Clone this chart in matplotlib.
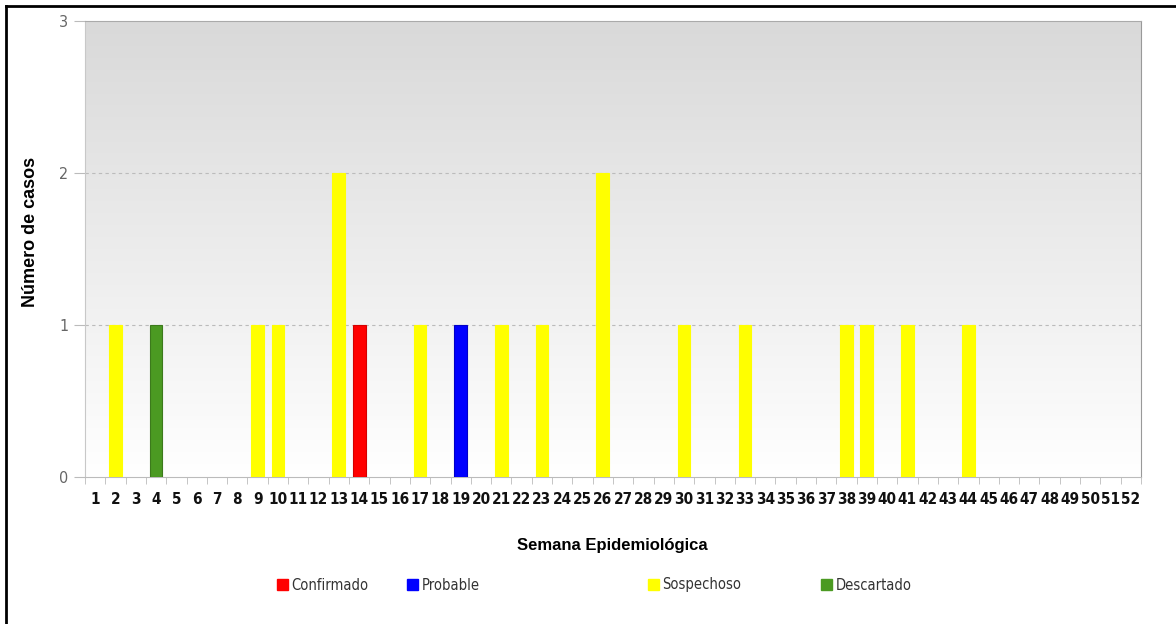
import numpy as np
import matplotlib
matplotlib.use("Agg")
import matplotlib.pyplot as plt
from matplotlib.lines import Line2D
from matplotlib.patches import Patch
from matplotlib import font_manager

weeks = list(range(1, 53))
series_names = ["Confirmado", "Probable", "Sospechoso", "Descartado"]
series_colors = ["#ff0000", "#0000ff", "#ffff00", "#4b9a22"]
edge_colors = ["#d40000", "#0000c8", "#ffff00", "#3c7a1c"]

# casos por semana (solo semanas con casos)
confirmado = {14: 1}
probable = {19: 1}
sospechoso = {2: 1, 9: 1, 10: 1, 13: 2, 17: 1, 21: 1, 23: 1, 26: 2,
              30: 1, 33: 1, 38: 1, 39: 1, 41: 1, 44: 1}
descartado = {4: 1}

y_ticks = [0, 1, 2, 3]

sans = ["Liberation Sans", "DejaVu Sans"]

# fuente estrecha para las etiquetas, si existe
cond_path = font_manager.findfont(
    font_manager.FontProperties(family="DejaVu Sans", stretch="condensed", weight="bold"))
if "Condensed" in cond_path:
    cond = dict(family="DejaVu Sans", stretch="condensed")
    tick_size = 11
else:
    cond = dict(family=sans)
    tick_size = 9.8
leg_font = dict(cond, size=10.5)

fig = plt.figure(figsize=(11.76, 6.24), dpi=100)
ax = fig.add_axes([85 / 1176, 1 - 477 / 624, (1141 - 85) / 1176, (477 - 21) / 624])

# fondo degradado gris (arriba) -> blanco (abajo)
grad = np.linspace(0, 1, 256).reshape(-1, 1)
cmap = matplotlib.colors.LinearSegmentedColormap.from_list("bg", ["#d9d9d9", "#ffffff"])
ax.imshow(grad, cmap=cmap, aspect="auto", extent=(0.5, 52.5, 0, 3),
          origin="upper", zorder=0)

data = [confirmado, probable, sospechoso, descartado]
bottom = {w: 0 for w in weeks}
for name, d, c, ec in zip(series_names, data, series_colors, edge_colors):
    xs = sorted(d)
    vals = [d[w] for w in xs]
    ax.bar(xs, vals, width=0.63, bottom=[bottom[w] for w in xs], color=c,
           edgecolor=ec, linewidth=0.8, zorder=3)
    for w in xs:
        bottom[w] += d[w]

ax.set_xlim(0.5, 52.5)
ax.set_ylim(0, 3)
ax.set_yticks(y_ticks)
ax.set_yticklabels([str(v) for v in y_ticks], fontsize=11.5, color="#666666", **cond)
ax.set_xticks(weeks)
ax.set_xticklabels([str(w) for w in weeks], fontweight="bold", color="#111111",
                   fontsize=tick_size, **cond)
ax.set_xticks(np.arange(0.5, 53, 1), minor=True)
ax.tick_params(axis="x", which="major", length=0, pad=11)
ax.tick_params(axis="x", which="minor", length=5, color="#bbbbbb")
ax.tick_params(axis="y", length=8, color="#bbbbbb", pad=4)

for v in [1, 2]:
    ax.axhline(v, color="#bbbbbb", linestyle=(0, (3, 3)), linewidth=0.8, zorder=1)

ax.spines["left"].set_color("#c8c8c8")
ax.spines["bottom"].set_color("#bbbbbb")
ax.spines["right"].set_color("#999999")
ax.spines["top"].set_color("#aaaaaa")

ax.set_xlabel("Semana Epidemiológica", family=sans, fontsize=12,
              fontweight="bold", va="center")
ax.xaxis.set_label_coords(0.499, -0.151)
ax.set_ylabel("Número de casos", family=sans, fontsize=13,
              fontweight="bold", va="center")
ax.yaxis.set_label_coords(-0.052, 0.537)

# leyenda: cada entrada en su posición
legend_x = [277, 407, 648, 821]
for name, c, x in zip(series_names, series_colors, legend_x):
    leg = fig.legend(handles=[Patch(facecolor=c, edgecolor=c)], labels=[name],
                     loc="center left", bbox_to_anchor=(x / 1176, 39 / 624),
                     frameon=False, borderpad=0, borderaxespad=0,
                     handlelength=0.75, handleheight=0.75, handletextpad=0.25,
                     prop=leg_font)
    for t in leg.get_texts():
        t.set_color("#333333")

# marco negro superior/izquierdo
fig.add_artist(Line2D([6 / 1176, 1.0], [1 - 6 / 624, 1 - 6 / 624], color="black", linewidth=2))
fig.add_artist(Line2D([6 / 1176, 6 / 1176], [0, 1 - 6 / 624], color="black", linewidth=2))

fig.savefig("out.png", dpi=100)
